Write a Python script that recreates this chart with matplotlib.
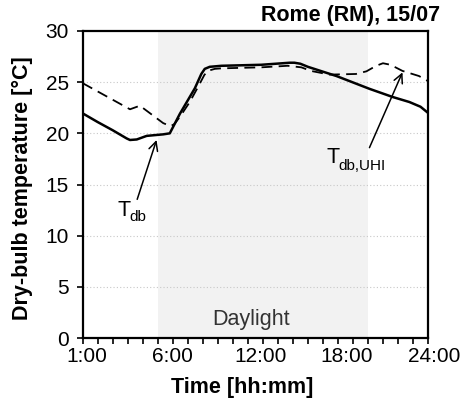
import matplotlib
matplotlib.use("Agg")
import matplotlib.pyplot as plt
import matplotlib.transforms as mtransforms

plt.rcParams['font.family'] = ['Liberation Sans', 'DejaVu Sans']

# Data (hour of day, temperature in °C)
hours_db = [1.0, 2.0, 3.0, 3.93, 4.15, 4.6, 5.26, 6.36, 6.8, 7.47, 8.47, 8.9, 9.13, 9.46,
            10.24, 12.9, 14.8, 15.1, 15.5, 16.0, 17.9, 20.1, 21.65, 22.76, 23.5, 24.0]
temp_db = [21.95, 21.1, 20.3, 19.5, 19.35, 19.4, 19.75, 19.9, 20.0, 21.9, 24.4, 25.8, 26.3, 26.5,
           26.6, 26.7, 26.9, 26.9, 26.8, 26.5, 25.6, 24.35, 23.55, 23.06, 22.6, 22.0]

hours_uhi = [1.0, 4.15, 4.81, 6.36, 6.85, 7.1, 7.47, 8.13, 8.67, 9.1, 9.33, 9.8, 10.24, 12.9,
             14.65, 15.56, 16.2, 17.44, 19.2, 19.9, 20.55, 21.0, 21.5, 22.3, 23.4, 24.0]
temp_uhi = [24.9, 22.35, 22.7, 21.0, 20.7, 20.9, 21.6, 23.06, 24.5, 25.7, 26.1, 26.3, 26.35, 26.45,
            26.6, 26.45, 26.1, 25.74, 25.8, 26.06, 26.6, 26.85, 26.7, 26.1, 25.6, 25.1]

daylight = (6.0, 20.0)
tick_labels = ["1:00", "6:00", "12:00", "18:00", "24:00"]
tick_label_pos = [1.3, 6.97, 12.86, 18.6, 24.4]
y_ticks = [0, 5, 10, 15, 20, 25, 30]

fig = plt.figure(figsize=(4.63, 4.12), dpi=100)
ax = fig.add_axes([82.7 / 463, 1 - 338 / 412, (428 - 82.7) / 463, (338 - 31) / 412])

ax.axvspan(daylight[0], daylight[1], color='#f2f2f2', lw=0, zorder=0)
for yv in y_ticks[1:-1]:
    ax.axhline(yv, color='#c8c8c8', lw=0.8, ls=(0, (1, 2)), zorder=1)

ax.plot(hours_db, temp_db, color='black', lw=1.8, zorder=3, solid_joinstyle='round')
ax.plot(hours_uhi, temp_uhi, color='black', lw=1.3, ls=(0, (6, 3.5)), zorder=3)

ax.set_xlim(1, 24)
ax.set_ylim(0, 30)
ax.set_yticks(y_ticks)
ax.set_yticklabels([str(v) for v in y_ticks], fontsize=15)
ax.set_xticks(range(1, 25))
ax.set_xticklabels([])
ax.tick_params(axis='both', direction='out', length=4, width=1.2, color='black')
ax.tick_params(axis='y', pad=6)

trans = mtransforms.blended_transform_factory(ax.transData, ax.transAxes)
for pos, lab in zip(tick_label_pos, tick_labels):
    ax.text(pos, -9 / 307, lab, transform=trans, ha='center', va='top', fontsize=15,
            clip_on=False)

for sp in ax.spines.values():
    sp.set_linewidth(1.6)
    sp.set_color('black')

fig.text(22 / 463, 1 - 188 / 412, "Dry-bulb temperature [°C]", fontsize=15.5,
         fontweight='bold', rotation=90, ha='center', va='center')
fig.text(242 / 463, 1 - 388 / 412, "Time [hh:mm]", fontsize=15.5, fontweight='bold',
         ha='center', va='center')
fig.text(440 / 463, 1 - 15 / 412, "Rome (RM), 15/07", fontsize=15.5, fontweight='bold',
         ha='right', va='center')

ax.text(12.2, 1.8, "Daylight", fontsize=15.5, color='#333333', ha='center', va='center')

arrow = dict(arrowstyle='->', color='black', lw=1.1, shrinkA=0, shrinkB=0,
             mutation_scale=16)
ax.annotate("", xy=(5.92, 19.35), xytext=(4.63, 13.55), arrowprops=arrow)
ax.annotate("", xy=(22.3, 25.96), xytext=(20.1, 18.6), arrowprops=arrow)

ax.text(3.29, 11.9, "T", fontsize=15.5, ha='left', va='baseline')
ax.text(4.08, 11.4, "db", fontsize=11, ha='left', va='baseline')
ax.text(17.25, 17.13, "T", fontsize=15.5, ha='left', va='baseline')
ax.text(18.05, 16.45, "db,UHI", fontsize=11, ha='left', va='baseline')

fig.savefig("out.png", dpi=100)
